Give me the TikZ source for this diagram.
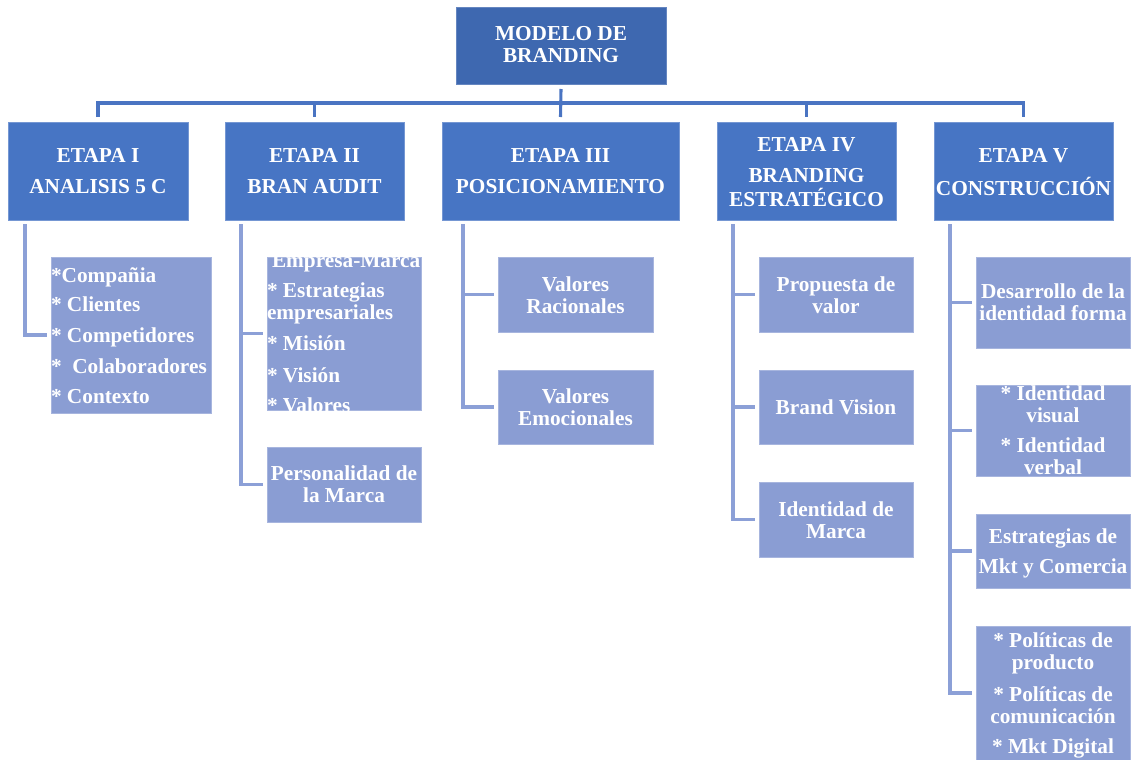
\documentclass[tikz,border=0pt]{standalone}
\usepackage{fontspec}
\setmainfont{Liberation Serif}
\definecolor{topc}{HTML}{3E68B0}
\definecolor{stagec}{HTML}{4775C4}
\definecolor{childc}{HTML}{8A9DD3}
\definecolor{upl}{HTML}{4A74C2}
\definecolor{chl}{HTML}{8CA0D7}
\newcommand{\txt}[2]{\begin{tabular}[t]{@{}#1@{}}#2\end{tabular}}
\tikzset{
  box/.style={rectangle, inner sep=0pt, outer sep=0pt, anchor=north west},
  topbox/.style={box, fill=topc, draw=topc!80!white, line width=0.6pt},
  stagebox/.style={box, fill=stagec, draw=stagec!75!white, line width=0.6pt},
  childbox/.style={box, fill=childc, draw=childc!75!white, line width=0.6pt},
  lbl/.style={inner sep=0pt, outer sep=0pt, text=white, font=\bfseries\fontsize{21.3}{22}\selectfont, anchor=base},
  lbll/.style={lbl, anchor=base west},
  upline/.style={draw=upl, line width=3.1pt},
  chline/.style={draw=chl, line width=3.1pt},
}
\begin{document}
\begin{tikzpicture}[x=1pt,y=-1pt]
\useasboundingbox (0,0) rectangle (1135,760);
% top
\node[topbox, minimum width=210pt, minimum height=77pt] (top) at (456,7) {};
\node[lbl] (ttop) at (561,41) {\txt{c}{MODELO DE\\BRANDING}};
% stages
\node[stagebox, minimum width=180pt, minimum height=98pt] (s1) at (8,122) {};
\node[stagebox, minimum width=179pt, minimum height=98pt] (s2) at (225,122) {};
\node[stagebox, minimum width=237pt, minimum height=98pt] (s3) at (442,122) {};
\node[stagebox, minimum width=179pt, minimum height=98pt] (s4) at (717,122) {};
\node[stagebox, minimum width=179pt, minimum height=98pt] (s5) at (934,122) {};
\node[lbl] (ts1) at (98,162) {\txt{c}{ETAPA I\\[9pt]ANALISIS 5 C}};
\node[lbl] (ts2) at (314.5,162) {\txt{c}{ETAPA II\\[9pt]BRAN AUDIT}};
\node[lbl] (ts3) at (560.5,162) {\txt{c}{ETAPA III\\[9pt]POSICIONAMIENTO}};
\node[lbl] (ts4) at (806.5,151) {\txt{c}{ETAPA IV\\[9pt]BRANDING\\ESTRATÉGICO}};
\node[lbl] (ts5) at (1023.5,162) {\txt{c}{ETAPA V\\[9pt]CONSTRUCCIÓN}};
% children
\node[childbox, minimum width=160pt, minimum height=156pt] (c11) at (51,257) {};
\node[childbox, minimum width=154pt, minimum height=153pt] (c21) at (267,257) {};
\node[childbox, minimum width=154pt, minimum height=75pt] (c22) at (267,447) {};
\node[childbox, minimum width=155pt, minimum height=75pt] (c31) at (498,257) {};
\node[childbox, minimum width=155pt, minimum height=74pt] (c32) at (498,370) {};
\node[childbox, minimum width=154pt, minimum height=75pt] (c41) at (759,257) {};
\node[childbox, minimum width=154pt, minimum height=74pt] (c42) at (759,370) {};
\node[childbox, minimum width=154pt, minimum height=75pt] (c43) at (759,482) {};
\node[childbox, minimum width=154pt, minimum height=91pt] (c51) at (976,257) {};
\node[childbox, minimum width=154pt, minimum height=91pt] (c52) at (976,385) {};
\node[childbox, minimum width=154pt, minimum height=74pt] (c53) at (976,514) {};
\node[childbox, minimum width=154pt, minimum height=134pt] (c54) at (976,626) {};
% child texts
\node[lbll] (t11) at (51,282) {\txt{l}{*Compañia\\[7pt]* Clientes\\[9pt]* Competidores\\[9pt]*~ Colaboradores\\[8pt]* Contexto}};
\begin{scope}
\clip (c21.north west) rectangle (c21.south east);
\node[lbll] (t21) at (267,267) {\txt{l}{\hspace{5pt}Empresa-Marca\\[8pt]* Estrategias\\empresariales\\[9pt]* Misión\\[10pt]* Visión\\[8pt]* Valores}};
\end{scope}
\node[lbl] (t22) at (344,480) {\txt{c}{Personalidad de\\la Marca}};
\node[lbl] (t31) at (575.5,291) {\txt{c}{Valores\\Racionales}};
\node[lbl] (t32) at (575.5,403) {\txt{c}{Valores\\Emocionales}};
\node[lbl] (t41) at (836,291) {\txt{c}{Propuesta de\\valor}};
\node[lbl] (t42) at (836,414) {\txt{c}{Brand Vision}};
\node[lbl] (t43) at (836,516) {\txt{c}{Identidad de\\Marca}};
\node[lbl] (t51) at (1053,298.5) {\txt{c}{Desarrollo de la\\identidad forma}};
\begin{scope}
\clip (c52.north west) rectangle (c52.south east);
\node[lbl] (t52) at (1053,400) {\txt{c}{* Identidad\\visual\\[8pt]* Identidad\\verbal}};
\end{scope}
\node[lbl] (t53) at (1053,543) {\txt{c}{Estrategias de\\[8pt]Mkt y Comercia}};
\node[lbl] (t54) at (1053,647) {\txt{c}{* Políticas de\\producto\\[10pt]* Políticas de\\comunicación\\[8pt]* Mkt Digital}};
% upper connectors
\coordinate (bus) at (561,103);
\draw[upline] ([yshift=-5pt]top.south) -- ([yshift=5pt]s3.north);
\draw[upline] ([yshift=5pt]s1.north) -- (s1.north |- bus) -- (s5.north |- bus) -- ([yshift=5pt]s5.north);
\draw[upline] (s2.north |- bus) -- ([yshift=5pt]s2.north);
\draw[upline] (s4.north |- bus) -- ([yshift=5pt]s4.north);
% child connectors
\coordinate (v1) at (25,224);
\coordinate (v2) at (241,224);
\coordinate (v3) at (463,224);
\coordinate (v4) at (733,224);
\coordinate (v5) at (950,224);
\draw[chline] (v1) |- ([xshift=-4pt]c11.west);
\draw[chline] (v2) |- ([xshift=-4pt]c22.west);
\draw[chline] (v2 |- c21.west) -- ([xshift=-4pt]c21.west);
\draw[chline] (v3) |- ([xshift=-4pt]c32.west);
\draw[chline] (v3 |- c31.west) -- ([xshift=-4pt]c31.west);
\draw[chline] (v4) |- ([xshift=-4pt]c43.west);
\draw[chline] (v4 |- c41.west) -- ([xshift=-4pt]c41.west);
\draw[chline] (v4 |- c42.west) -- ([xshift=-4pt]c42.west);
\draw[chline] (v5) |- ([xshift=-4pt]c54.west);
\draw[chline] (v5 |- c51.west) -- ([xshift=-4pt]c51.west);
\draw[chline] (v5 |- c52.west) -- ([xshift=-4pt]c52.west);
\draw[chline] (v5 |- c53.west) -- ([xshift=-4pt]c53.west);
\end{tikzpicture}
\end{document}
